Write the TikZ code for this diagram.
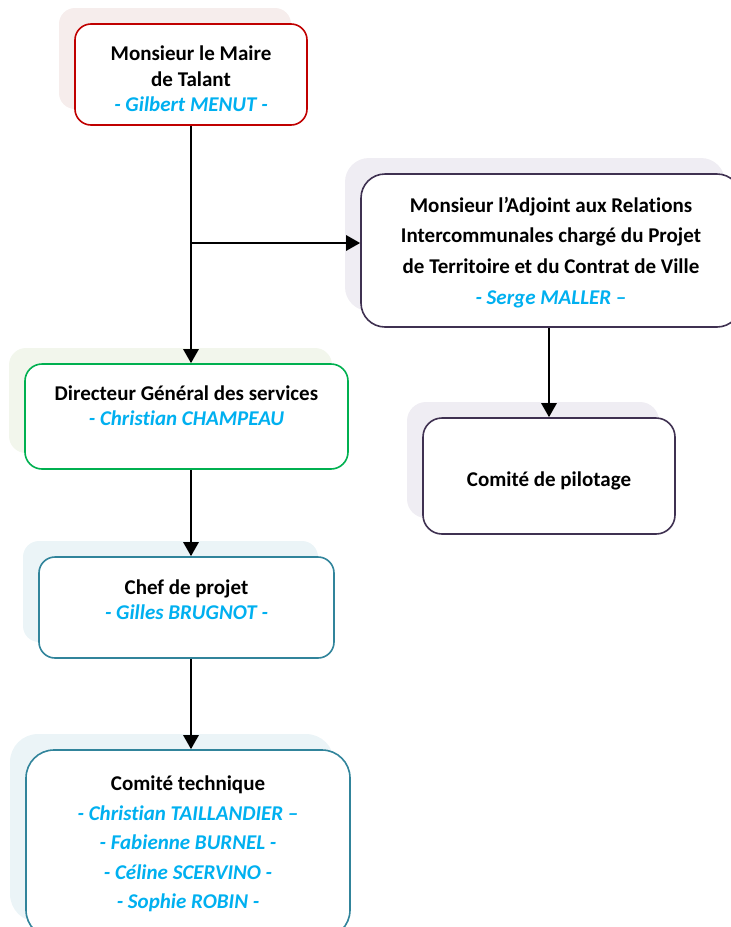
\documentclass[tikz,border=0pt]{standalone}
\usepackage{fontspec}
\setmainfont{Carlito}[Ligatures={TeX,NoCommon}]
\usetikzlibrary{arrows.meta,shadows}
\definecolor{mairered}{HTML}{C00000}
\definecolor{adjpurple}{HTML}{3F3151}
\definecolor{dggreen}{HTML}{00B050}
\definecolor{projteal}{HTML}{31849B}
\definecolor{nameblue}{HTML}{00B0F0}
\definecolor{shred}{HTML}{F6EDEC}
\definecolor{shpurple}{HTML}{EFEDF3}
\definecolor{shgreen}{HTML}{F2F6EC}
\definecolor{shteal}{HTML}{EBF4F7}
\newcommand\who[1]{{\color{nameblue}\itshape #1}}
\begin{document}
\begin{tikzpicture}[x=1pt,y=-1pt,>={Triangle[length=14pt,width=15pt]},line join=round,
		box/.style={draw,line width=1.6pt,fill=white,align=center,inner sep=0pt,
			font=\bfseries\fontsize{21}{25.6}\selectfont},
		tall/.style={font=\bfseries\fontsize{21}{#1}\selectfont},
		back/.style={general shadow={fill=#1,shadow xshift=-16pt,shadow yshift=16pt}},
		link/.style={->,line width=2.7pt}]
		\useasboundingbox (0,0) rectangle (731,927);
		\node[box,draw=mairered,rounded corners=16pt,back=shred,minimum width=232pt,minimum height=101pt,text height=75pt]
			(maire) at (191,74.5) {Monsieur le Maire\\de Talant\\\who{- Gilbert MENUT -}};
		\node[box,tall=30.7,draw=adjpurple,rounded corners=24pt,back=shpurple,minimum width=380pt,minimum height=153pt,text height=111pt]
			(adjoint) at (551,250.5) {Monsieur l’Adjoint aux Relations\\Intercommunales chargé du Projet\\de Territoire et du Contrat de Ville\\\who{- Serge MALLER –}};
		\node[box,draw=dggreen,rounded corners=17pt,back=shgreen,minimum width=323pt,minimum height=105pt,text depth=22pt]
			(dgs) at (186.5,416.5) {Directeur Général des services\\\who{- Christian CHAMPEAU}};
		\node[box,draw=adjpurple,rounded corners=19pt,back=shpurple,minimum width=252pt,minimum height=116pt,text height=25pt]
			(copil) at (549,476) {Comité de pilotage};
		\node[box,draw=projteal,rounded corners=16pt,back=shteal,minimum width=295pt,minimum height=101pt,text depth=16pt]
			(chef) at (186.5,607.5) {Chef de projet\\\who{- Gilles BRUGNOT -}};
		\node[box,tall=29.4,draw=projteal,rounded corners=28pt,back=shteal,minimum width=324pt,minimum height=188pt]
			(cotech) at (188,844) {Comité technique\\\who{- Christian TAILLANDIER –}\\\who{- Fabienne BURNEL -}\\\who{- Céline SCERVINO -}\\\who{- Sophie ROBIN -}};
		% branch towards the adjoint
		\coordinate (fork) at (191,243);
		\draw[link] (maire.south) -- (maire.south |- dgs.north);
		\draw[link] (fork) -- (fork -| adjoint.west);
		\draw[link] (adjoint.south -| copil.north) -- (copil.north);
		\draw[link] (dgs.south -| maire.south) -- (chef.north -| maire.south);
		\draw[link] (chef.south -| maire.south) -- (cotech.north -| maire.south);
\end{tikzpicture}
\end{document}
